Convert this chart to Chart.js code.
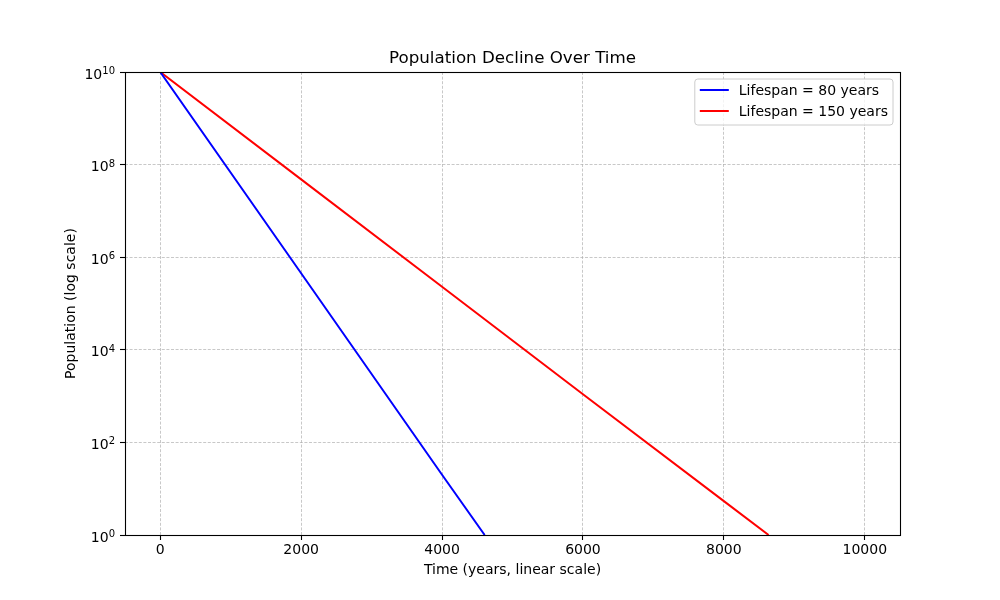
<!DOCTYPE html>
<html>
<head>
<meta charset="utf-8">
<script src="https://cdn.jsdelivr.net/npm/chart.js@4"></script>
<style>
  html, body { margin: 0; padding: 0; background: #ffffff; }
  #c { display: block; }
</style>
</head>
<body>
<canvas id="c" width="1000" height="600"></canvas>
<script>
// ---- Data ----
const chartTitle = 'Population Decline Over Time';
const xAxisTitle = 'Time (years, linear scale)';
const yAxisTitle = 'Population (log scale)';

const seriesLabels = ['Lifespan = 80 years', 'Lifespan = 150 years'];
const seriesColors = ['#0000ff', '#ff0000'];

const time80 = [0, 2000, 4000, 4605];
const pop80  = [1e10, 4.5e5, 2.0e1, 1];

const time150 = [0, 2000, 4000, 6000, 8000, 8635];
const pop150  = [1e10, 4.8e7, 2.3e5, 1.1e3, 5.4, 1];

const xTickValues = [0, 2000, 4000, 6000, 8000, 10000];
const xTickLabels = ['0', '2000', '4000', '6000', '8000', '10000'];
const yTickValues = [1, 1e2, 1e4, 1e6, 1e8, 1e10];
const yTickBase = '10';
const yTickExponents = ['0', '2', '4', '6', '8', '10'];

const xMin = -500, xMax = 10500;
const yMin = 1, yMax = 1e10;

// ---- Build datasets ----
function toPoints(xs, ys) { return xs.map((x, i) => ({ x: x, y: ys[i] })); }

const FONT = '"DejaVu Sans", sans-serif';

const framePlugin = {
  id: 'frameAndLegend',
  afterDatasetsDraw(chart) {
    const { ctx, chartArea: a } = chart;
    ctx.save();
    // spines
    ctx.strokeStyle = '#000000';
    ctx.lineWidth = 1.1;
    ctx.strokeRect(Math.round(a.left) + 0.5, Math.round(a.top) + 0.5,
                   Math.round(a.right - a.left), Math.round(a.bottom - a.top));

    // y tick labels: base with superscript exponent
    const ys = chart.scales.y;
    yTickValues.forEach((v, i) => {
      const py = ys.getPixelForValue(v);
      ctx.font = '14px ' + FONT;
      const wb = ctx.measureText(yTickBase).width;
      ctx.font = '10px ' + FONT;
      const we = ctx.measureText(yTickExponents[i]).width;
      const right = a.left - 10;
      const x0 = right - wb - we;
      ctx.fillStyle = '#000000';
      ctx.textAlign = 'left';
      ctx.textBaseline = 'alphabetic';
      ctx.font = '14px ' + FONT;
      ctx.fillText(yTickBase, x0, py + 6.5);
      ctx.font = '10px ' + FONT;
      ctx.fillText(yTickExponents[i], x0 + wb, py + 2);
    });

    // legend
    ctx.font = '14px ' + FONT;
    const ds = chart.data.datasets;
    let maxW = 0;
    ds.forEach(d => { maxW = Math.max(maxW, ctx.measureText(d.label).width); });
    const boxW = 44 + maxW + 5;
    const boxH = 46;
    const bx = a.right - 7 - boxW;
    const by = a.top + 7;
    const r = 3;
    ctx.beginPath();
    ctx.moveTo(bx + r, by);
    ctx.lineTo(bx + boxW - r, by);
    ctx.quadraticCurveTo(bx + boxW, by, bx + boxW, by + r);
    ctx.lineTo(bx + boxW, by + boxH - r);
    ctx.quadraticCurveTo(bx + boxW, by + boxH, bx + boxW - r, by + boxH);
    ctx.lineTo(bx + r, by + boxH);
    ctx.quadraticCurveTo(bx, by + boxH, bx, by + boxH - r);
    ctx.lineTo(bx, by + r);
    ctx.quadraticCurveTo(bx, by, bx + r, by);
    ctx.closePath();
    ctx.fillStyle = 'rgba(255,255,255,0.8)';
    ctx.fill();
    ctx.strokeStyle = '#cccccc';
    ctx.lineWidth = 1;
    ctx.stroke();
    ds.forEach((d, i) => {
      const cy = by + 11 + i * 21;
      ctx.strokeStyle = d.borderColor;
      ctx.lineWidth = 2;
      ctx.beginPath();
      ctx.moveTo(bx + 5, cy);
      ctx.lineTo(bx + 34, cy);
      ctx.stroke();
      ctx.fillStyle = '#000000';
      ctx.textBaseline = 'middle';
      ctx.textAlign = 'left';
      ctx.fillText(d.label, bx + 44, cy + 1);
    });
    // title
    ctx.font = '16.7px ' + FONT;
    ctx.fillStyle = '#000000';
    ctx.textAlign = 'center';
    ctx.textBaseline = 'middle';
    ctx.fillText(chartTitle, (a.left + a.right) / 2, 59);
    ctx.restore();
  }
};

new Chart(document.getElementById('c'), {
  type: 'line',
  data: {
    datasets: [
      { label: seriesLabels[0], data: toPoints(time80, pop80), borderColor: seriesColors[0],
        backgroundColor: seriesColors[0], borderWidth: 2, pointRadius: 0, fill: false, tension: 0 },
      { label: seriesLabels[1], data: toPoints(time150, pop150), borderColor: seriesColors[1],
        backgroundColor: seriesColors[1], borderWidth: 2, pointRadius: 0, fill: false, tension: 0 }
    ]
  },
  options: {
    responsive: false,
    animation: false,
    devicePixelRatio: 1,
    layout: { padding: { left: 0, right: 100, top: 72, bottom: 0 } },
    plugins: {
      legend: { display: false },
      title: { display: false },
      tooltip: { enabled: false }
    },
    scales: {
      x: {
        type: 'linear',
        min: xMin, max: xMax,
        afterBuildTicks(scale) { scale.ticks = xTickValues.map(v => ({ value: v })); },
        afterFit(scale) { scale.height = 65; },
        ticks: {
          color: '#000000',
          font: { family: FONT, size: 14 },
          padding: 2,
          maxRotation: 0,
          autoSkip: false,
          callback: (v) => { const i = xTickValues.indexOf(v); return i >= 0 ? xTickLabels[i] : ''; }
        },
        grid: {
          color: '#b0b0b0', lineWidth: 0.7,
          tickColor: '#000000', tickWidth: 1.1, tickLength: 5, tickBorderDash: []
        },
        border: { display: false, dash: [3, 1.6] },
        title: {
          display: true, text: xAxisTitle, color: '#000000',
          font: { family: FONT, size: 14 }, padding: { top: 0, bottom: 21 }
        }
      },
      y: {
        type: 'logarithmic',
        min: yMin, max: yMax,
        afterBuildTicks(scale) { scale.ticks = yTickValues.map(v => ({ value: v, major: true })); },
        afterFit(scale) { scale.width = 125; },
        ticks: {
          display: false,
          autoSkip: false
        },
        grid: {
          color: '#b0b0b0', lineWidth: 0.7,
          tickColor: '#000000', tickWidth: 1.1, tickLength: 5, tickBorderDash: []
        },
        border: { display: false, dash: [3, 1.6] },
        title: {
          display: true, text: yAxisTitle, color: '#000000',
          font: { family: FONT, size: 14 }, padding: { top: 63, bottom: 0 }
        }
      }
    }
  },
  plugins: [framePlugin]
});
</script>
</body>
</html>
